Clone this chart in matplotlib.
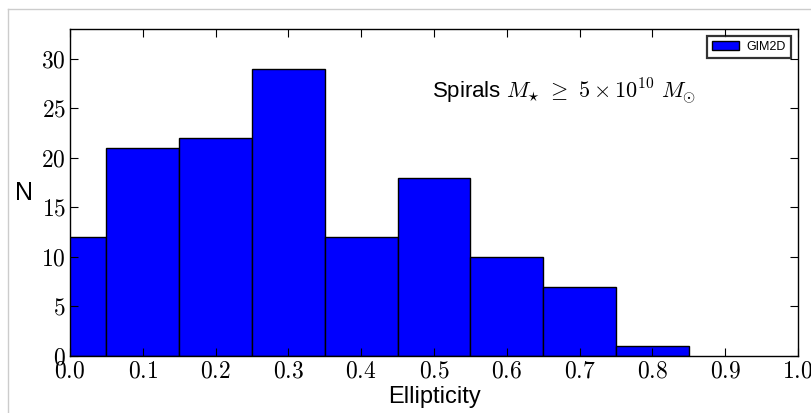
import matplotlib
matplotlib.use('Agg')
import matplotlib.pyplot as plt
from matplotlib.lines import Line2D
from matplotlib.ticker import FuncFormatter

# Ellipticity histogram, bins of 0.1 centred on 0.0 ... 0.8
centres = [0.0, 0.1, 0.2, 0.3, 0.4, 0.5, 0.6, 0.7, 0.8]
counts = [12, 21, 22, 29, 12, 18, 10, 7, 1]
xticks = [0.0, 0.1, 0.2, 0.3, 0.4, 0.5, 0.6, 0.7, 0.8, 0.9, 1.0]
yticks = [0, 5, 10, 15, 20, 25, 30]

plt.rcParams['mathtext.fontset'] = 'cm'
plt.rcParams['font.family'] = ['Liberation Sans', 'DejaVu Sans']

fig = plt.figure(figsize=(8.12, 4.13), dpi=100)
ax = fig.add_axes([70/812, 1-356/413, 728/812, 327/413])

ax.bar(centres, counts, width=0.1, color='#0000ff', edgecolor='black',
       linewidth=1.0, label='GIM2D')

ax.set_xlim(0, 1.0)
ax.set_ylim(0, 33)
ax.set_xticks(xticks)
ax.set_yticks(yticks)
ax.xaxis.set_major_formatter(FuncFormatter(lambda v, p: r'$%.1f$' % v))
ax.yaxis.set_major_formatter(FuncFormatter(lambda v, p: r'$%d$' % v))
ax.tick_params(direction='in', top=True, right=True, length=6,
               labelsize=17, pad=3)
for s in ax.spines.values():
    s.set_linewidth(1.0)

ax.set_xlabel('Ellipticity', fontsize=17, labelpad=3)
ax.set_ylabel('N', fontsize=18, rotation=0, va='center', ha='center')
ax.yaxis.set_label_coords(-0.063, 0.5)

ax.text(0.497, 0.81, r'Spirals $M_{\star}\ \geq\ 5 \times 10^{10}\ M_{\odot}$',
        transform=ax.transAxes, fontsize=16, va='center', ha='left')

leg = ax.legend(loc='upper right', fontsize=9, fancybox=False,
                borderaxespad=0.55, borderpad=0.4, handlelength=2.2,
                handleheight=0.7, handletextpad=0.6)
leg.get_frame().set_edgecolor('black')
leg.get_frame().set_linewidth(1.6)

# thin grey frame lines along the top and left edge
fig.add_artist(Line2D([8/812, 1], [1-9/413, 1-9/413], color='#cccccc', lw=1))
fig.add_artist(Line2D([8/812, 8/812], [0, 1-9/413], color='#cccccc', lw=1))

fig.savefig('out.png', dpi=100)
